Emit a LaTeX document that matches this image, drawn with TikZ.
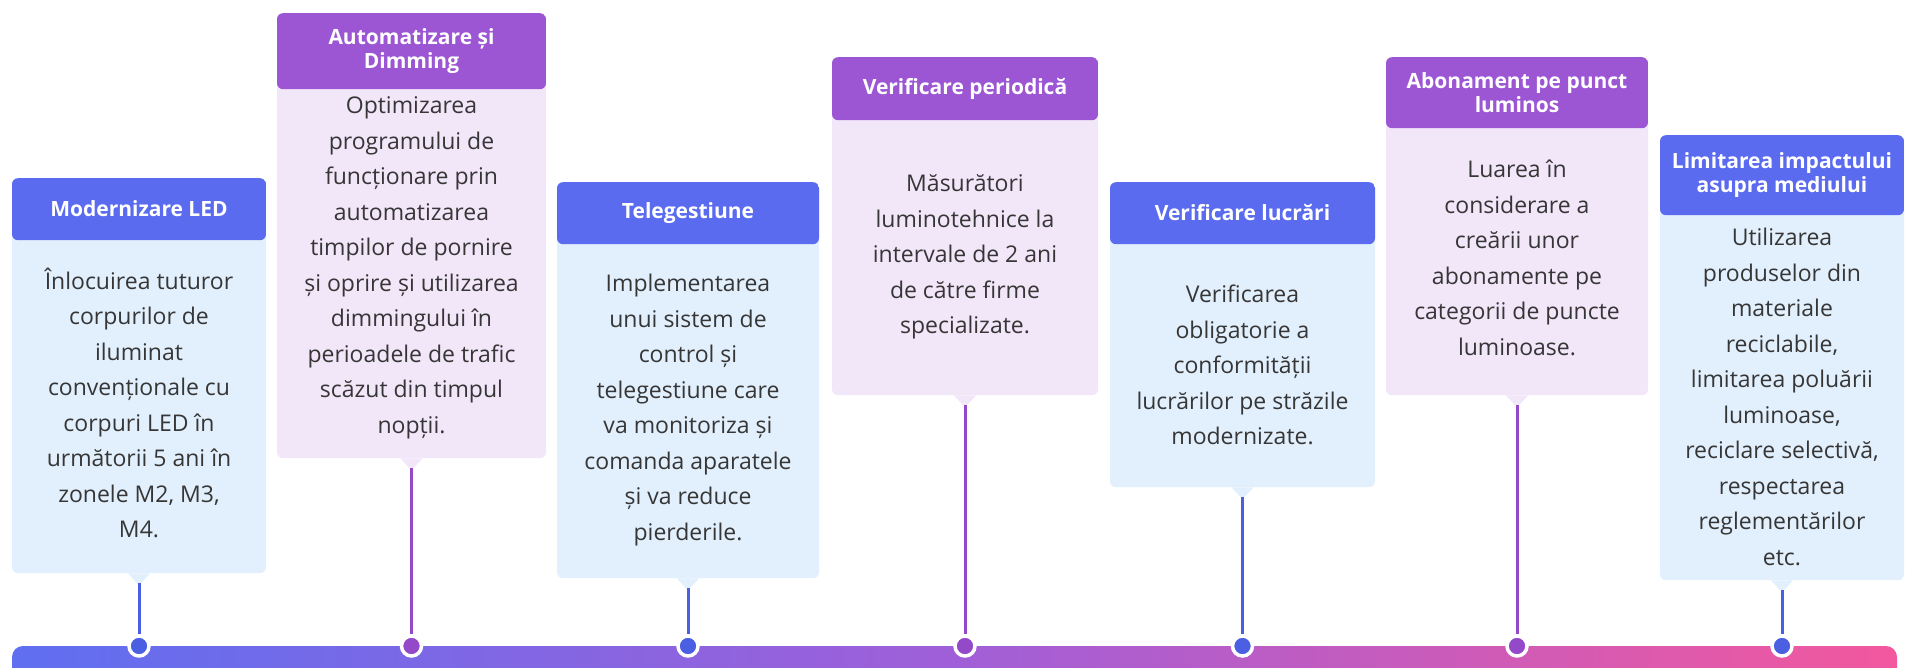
\documentclass[tikz,border=0pt]{standalone}
\usepackage{fontspec}
\setmainfont{Open Sans}
\usetikzlibrary{calc}

\definecolor{headblue}{HTML}{5A6BEF}
\definecolor{headpurple}{HTML}{9C56D4}
\definecolor{bodyblue}{HTML}{E2EFFC}
\definecolor{bodypurple}{HTML}{F2E6F9}
\definecolor{stemblue}{HTML}{4B5FE2}
\definecolor{stempurple}{HTML}{9449C9}
\definecolor{textgray}{HTML}{363636}
\definecolor{barblue}{HTML}{5F6FF0}
\definecolor{barpurple}{HTML}{A05FD8}
\definecolor{barpink}{HTML}{F2589E}

\tikzset{
  card/.style={rectangle, rounded corners=6pt, inner sep=0pt, anchor=north, minimum width=#1},
  bluecard/.style={fill=bodyblue, path picture={\fill[headblue] (path picture bounding box.north west) rectangle ([yshift=-#1]path picture bounding box.north east);}},
  purplecard/.style={fill=bodypurple, path picture={\fill[headpurple] (path picture bounding box.north west) rectangle ([yshift=-#1]path picture bounding box.north east);}},
  headtxt/.style={align=center, text=white, inner sep=0pt, font=\bfseries\fontsize{21}{24}\selectfont},
  bodytxt/.style={align=center, text=textgray, inner sep=0pt, font=\fontsize{23}{35.5}\selectfont},
  bluestem/.style={stemblue, line width=3pt},
  purplestem/.style={stempurple, line width=3pt},
  bluedot/.style={circle, fill=stemblue, draw=white, line width=3.5pt, minimum size=20pt, inner sep=0pt},
  purpledot/.style={circle, fill=stempurple, draw=white, line width=3.5pt, minimum size=20pt, inner sep=0pt}
}

\begin{document}
\begin{tikzpicture}[x=1pt, y=-1pt]
    \useasboundingbox (0,0) rectangle (1907,667);
    % timeline bar
    \shade[left color=barblue, right color=barpink, middle color=barpurple, rounded corners=11pt] (12,646) rectangle (1897,680);
    \coordinate (barline) at (0,646);

    % cards
    \node[card=254pt, minimum height=395pt, bluecard=62pt] (c1) at (139,178) {};
    \node[headtxt] (h1) at (139,209) {Modernizare LED};
    \node[bodytxt] (t1) at (139,403) {Înlocuirea tuturor\\corpurilor de\\iluminat\\convenționale cu\\corpuri LED în\\următorii 5 ani în\\zonele M2, M3,\\M4.};

    \node[card=269pt, minimum height=445pt, purplecard=76pt] (c2) at (411.5,13) {};
    \node[headtxt] (h2) at (411.5,51) {Automatizare și\\Dimming};
    \node[bodytxt] (t2) at (411.5,268) {Optimizarea\\programului de\\funcționare prin\\automatizarea\\timpilor de pornire\\și oprire și utilizarea\\dimmingului în\\perioadele de trafic\\scăzut din timpul\\nopții.};

    \node[card=262pt, minimum height=396pt, bluecard=62pt] (c3) at (688,182) {};
    \node[headtxt] (h3) at (688,213) {Telegestiune};
    \node[bodytxt] (t3) at (688,410) {Implementarea\\unui sistem de\\control și\\telegestiune care\\va monitoriza și\\comanda aparatele\\și va reduce\\pierderile.};

    \node[card=266pt, minimum height=338pt, purplecard=63pt] (c4) at (965,57) {};
    \node[headtxt] (h4) at (965,88.5) {Verificare periodică};
    \node[bodytxt] (t4) at (965,257) {Măsurători\\luminotehnice la\\intervale de 2 ani\\de către firme\\specializate.};

    \node[card=265pt, minimum height=305pt, bluecard=62pt] (c5) at (1242.5,182) {};
    \node[headtxt] (h5) at (1242.5,213) {Verificare lucrări};
    \node[bodytxt] (t5) at (1242.5,365) {Verificarea\\obligatorie a\\conformității\\lucrărilor pe străzile\\modernizate.};

    \node[card=262pt, minimum height=338pt, purplecard=71pt] (c6) at (1517,57) {};
    \node[headtxt] (h6) at (1517,92.5) {Abonament pe punct\\luminos};
    \node[bodytxt] (t6) at (1517,258) {Luarea în\\considerare a\\creării unor\\abonamente pe\\categorii de puncte\\luminoase.};

    \node[card=244pt, minimum height=445pt, bluecard=80pt] (c7) at (1782,135) {};
    \node[headtxt] (h7) at (1782,175) {Limitarea impactului\\asupra mediului};
    \node[bodytxt] (t7) at (1782,397) {Utilizarea\\produselor din\\materiale\\reciclabile,\\limitarea poluării\\luminoase,\\reciclare selectivă,\\respectarea\\reglementărilor\\etc.};

    % pointers under the cards
    \foreach \c/\col in {c1/bodyblue, c2/bodypurple, c3/bodyblue, c4/bodypurple, c5/bodyblue, c6/bodypurple, c7/bodyblue}
        \fill[\col] ([xshift=-11pt]\c.south) -- ([xshift=11pt]\c.south) -- ([yshift=-12pt]\c.south) -- cycle;

    % dots on the bar
    \node[bluedot] (d1) at (c1.south |- barline) {};
    \node[purpledot] (d2) at (c2.south |- barline) {};
    \node[bluedot] (d3) at (c3.south |- barline) {};
    \node[purpledot] (d4) at (c4.south |- barline) {};
    \node[bluedot] (d5) at (c5.south |- barline) {};
    \node[purpledot] (d6) at (c6.south |- barline) {};
    \node[bluedot] (d7) at (c7.south |- barline) {};

    % stems
    \draw[bluestem] ([yshift=-10pt]c1.south) -- (d1);
    \draw[purplestem] ([yshift=-10pt]c2.south) -- (d2);
    \draw[bluestem] ([yshift=-10pt]c3.south) -- (d3);
    \draw[purplestem] ([yshift=-10pt]c4.south) -- (d4);
    \draw[bluestem] ([yshift=-10pt]c5.south) -- (d5);
    \draw[purplestem] ([yshift=-10pt]c6.south) -- (d6);
    \draw[bluestem] ([yshift=-10pt]c7.south) -- (d7);
\end{tikzpicture}
\end{document}
